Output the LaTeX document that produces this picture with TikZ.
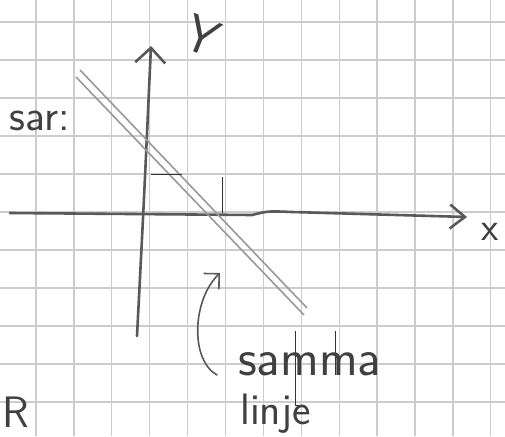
\documentclass[tikz,border=0pt]{standalone}
\usetikzlibrary{arrows.meta}

\begin{document}
\begin{tikzpicture}[
    x=1pt, y=-1pt,
    gridline/.style={line width=1.3pt, gray!40},
    axis/.style={line width=2.6pt, black!65, line cap=round},
    sameline/.style={line width=1.6pt, black!40},
    pencil/.style={line width=0.7pt, black!80},
    ink/.style={black!75, inner sep=0pt, font=\sffamily\fontsize{44}{48}\selectfont}
]
\useasboundingbox (0,0) rectangle (505,436);
\clip (0,0) rectangle (505,436);
\fill[white] (0,0) rectangle (505,436);

% Grid paper
\foreach \gx in {0,...,12}
    \draw[gridline] ({36+37.9*\gx},0) -- ({36+37.9*\gx},436);
\foreach \gy in {0,...,11}
    \draw[gridline] (0,{22+38*\gy}) -- (505,{22+38*\gy});

% Axes
\coordinate (ybottom) at (137,336);
\coordinate (ytop) at (151,46);
\coordinate (xleft) at (10,213);
\coordinate (xright) at (467,217);
\draw[axis, -{Straight Barb[length=15pt,width=30pt]}] (ybottom) .. controls (144,200) .. (ytop);
\draw[axis, -{Straight Barb[length=15pt,width=24pt]}] (xleft) -- (252,215) .. controls (268,211) .. (292,212) -- (xright);

% The two lines on top of each other
\coordinate (lineAstart) at (80,70);
\coordinate (lineAend) at (307,308);
\coordinate (lineBstart) at (76,77);
\coordinate (lineBend) at (304,315);
\draw[sameline] (lineAstart) -- (lineAend);
\draw[sameline] (lineBstart) -- (lineBend);

% Pencil marks
\draw[pencil] (151,174) -- (182,174);
\draw[pencil] (222,177) -- (222,213);
\draw[pencil] (295,331) -- (295,405) -- (305,405);
\draw[pencil] (335,331) -- (335,375);

% Labels
\node[ink, rotate=-22, font=\sffamily\fontsize{52}{56}\selectfont] (ylabel) at (202,36) {Y};
\node[ink, font=\sffamily\fontsize{40}{44}\selectfont] (xlabel) at (490,232) {x};
\node[ink, anchor=east] (sar) at (70,121) {sar:};
\node[ink] (rlabel) at (16,412) {R};
\node[ink, anchor=west, font=\sffamily\fontsize{52}{56}\selectfont] (samma) at (238,364) {samma};
\node[ink, anchor=west, font=\sffamily\fontsize{44}{48}\selectfont] (linje) at (240,414) {linje};

% Arrow pointing at the line
\coordinate (arrowstart) at (217,375);
\coordinate (arrowtip) at (220,273);
\draw[axis, line width=1.6pt, -{Straight Barb[length=11pt,width=22pt]}] (arrowstart) .. controls (190,360) and (192,300) .. (arrowtip);

\end{tikzpicture}
\end{document}
